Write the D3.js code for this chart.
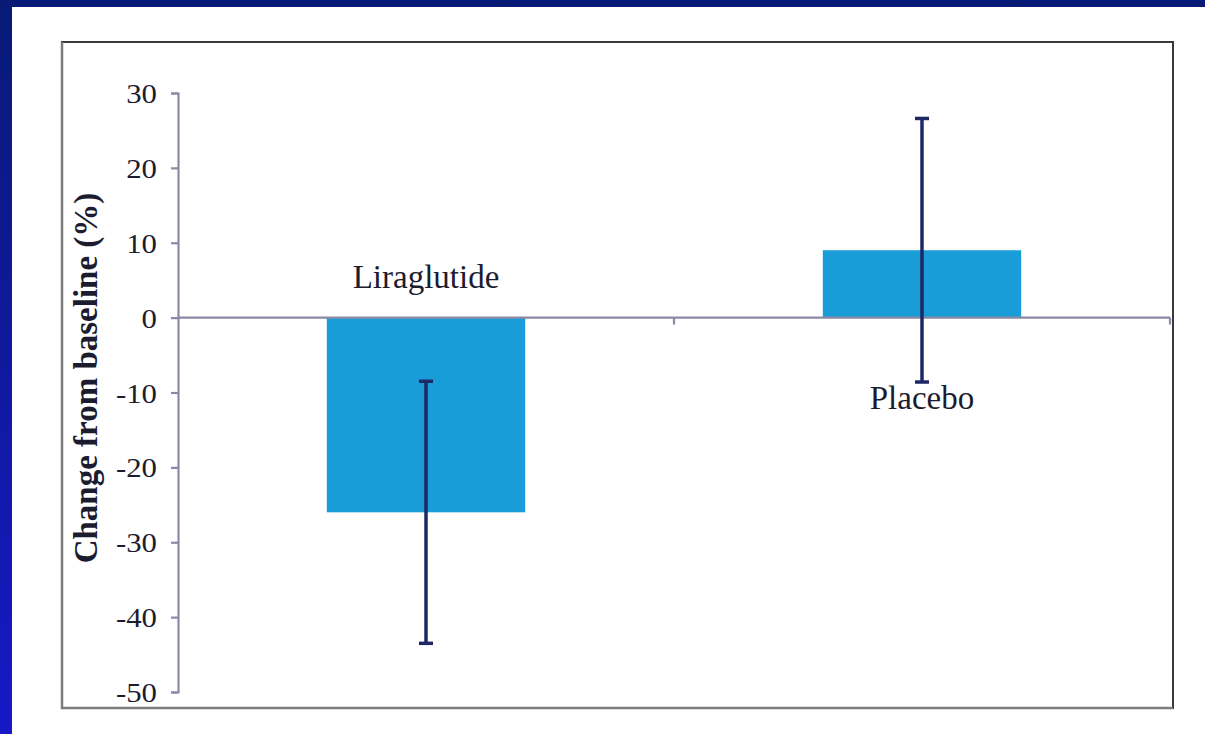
<!DOCTYPE html>
<html>
<head>
<meta charset="utf-8">
<script src="https://cdn.jsdelivr.net/npm/d3@7"></script>
<style>
  html, body { margin: 0; padding: 0; background: #ffffff; }
  svg { display: block; }
</style>
</head>
<body>
<svg id="chart" width="1205" height="734"></svg>
<script>
// Treatment groups and their mean change from baseline (%)
const categories = ["Liraglutide", "Placebo"];
const meanChange = [-26, 9];
// Half-width of each error bar (% points)
const errorHalf = [17.5, 17.6];
// Y axis tick values
const yTicks = [30, 20, 10, 0, -10, -20, -30, -40, -50];

const svg = d3.select("#chart");
const W = 1205, H = 734;

// Slide background: navy-to-blue gradient with a white content panel
const defs = svg.append("defs");
const grad = defs.append("linearGradient")
  .attr("id", "slideBg").attr("x1", 0).attr("y1", 0).attr("x2", 0).attr("y2", 1);
grad.append("stop").attr("offset", "0%").attr("stop-color", "#081a76");
grad.append("stop").attr("offset", "100%").attr("stop-color", "#1718c6");
svg.append("rect").attr("width", W).attr("height", H).attr("fill", "url(#slideBg)");
svg.append("rect").attr("x", 12).attr("y", 7).attr("width", W - 12).attr("height", H - 7)
  .attr("fill", "#ffffff");

// Chart frame
const frame = { x0: 62, y0: 42, x1: 1173, y1: 708 };
svg.append("rect")
  .attr("x", frame.x0).attr("y", frame.y0)
  .attr("width", frame.x1 - frame.x0).attr("height", frame.y1 - frame.y0)
  .attr("fill", "none").attr("stroke", "#3a3a3a").attr("stroke-width", 2);
svg.append("path")
  .attr("d", `M${frame.x0},${frame.y0} V${frame.y1} H${frame.x1}`)
  .attr("fill", "none").attr("stroke", "#7c7c7c").attr("stroke-width", 2.5);

// Scales
const plot = { left: 178, right: 1170, top: 93, bottom: 692 };
const y = d3.scaleLinear().domain([-50, 30]).range([plot.bottom, plot.top]);
const x = d3.scaleBand().domain(categories)
  .range([plot.left, plot.right]).paddingInner(0.6).paddingOuter(0.3);

const axisColor = "#8a8aa6";
const serif = "'Liberation Serif', 'Times New Roman', Times, serif";

// Y axis (hyphen-minus for negative labels)
const yAxis = svg.append("g")
  .attr("transform", `translate(${plot.left},0)`)
  .call(d3.axisLeft(y).tickValues(yTicks).tickFormat(d => String(d))
    .tickSize(7).tickSizeOuter(7).tickPadding(14));
yAxis.attr("font-family", null).attr("font-size", null);
yAxis.select(".domain").attr("stroke", axisColor).attr("stroke-width", 2.2);
yAxis.selectAll(".tick line").attr("stroke", axisColor).attr("stroke-width", 2.2);
yAxis.selectAll(".tick text")
  .attr("fill", "#1c1c30")
  .style("font-family", serif)
  .style("font-size", "28px")
  .attr("dy", "0.34em")
  .attr("transform", function () {
    const tx = +d3.select(this).attr("x");
    return `translate(${tx},0) scale(1.1,1) translate(${-tx},0)`;
  });

// Bars
const y0 = y(0);
svg.append("g").selectAll("rect")
  .data(categories)
  .join("rect")
  .attr("x", d => x(d))
  .attr("width", x.bandwidth())
  .attr("y", (d, i) => Math.min(y(meanChange[i]), y0))
  .attr("height", (d, i) => Math.abs(y(meanChange[i]) - y0))
  .attr("fill", "#199dd9");

// X axis along zero, ticks at band boundaries
const step = x.step();
const bounds = [plot.left + step, plot.right];
svg.append("line")
  .attr("x1", plot.left).attr("x2", plot.right)
  .attr("y1", y0).attr("y2", y0)
  .attr("stroke", axisColor).attr("stroke-width", 2.2);
svg.append("g").selectAll("line")
  .data(bounds)
  .join("line")
  .attr("x1", d => d).attr("x2", d => d)
  .attr("y1", y0).attr("y2", y0 + 7)
  .attr("stroke", axisColor).attr("stroke-width", 2.2);

// Error bars
const errColor = "#1f2866";
const capW = 14;
const eb = svg.append("g").selectAll("g")
  .data(categories)
  .join("g")
  .attr("transform", d => `translate(${x(d) + x.bandwidth() / 2},0)`);
eb.append("line")
  .attr("y1", (d, i) => y(meanChange[i] + errorHalf[i]))
  .attr("y2", (d, i) => y(meanChange[i] - errorHalf[i]))
  .attr("stroke", errColor).attr("stroke-width", 3.5);
eb.append("line")
  .attr("x1", -capW / 2).attr("x2", capW / 2)
  .attr("y1", (d, i) => y(meanChange[i] + errorHalf[i]))
  .attr("y2", (d, i) => y(meanChange[i] + errorHalf[i]))
  .attr("stroke", errColor).attr("stroke-width", 3.5);
eb.append("line")
  .attr("x1", -capW / 2).attr("x2", capW / 2)
  .attr("y1", (d, i) => y(meanChange[i] - errorHalf[i]))
  .attr("y2", (d, i) => y(meanChange[i] - errorHalf[i]))
  .attr("stroke", errColor).attr("stroke-width", 3.5);

// Group labels: above the zero line for decreases, below the error bar for increases
svg.append("g").selectAll("text")
  .data(categories)
  .join("text")
  .attr("x", d => x(d) + x.bandwidth() / 2)
  .attr("y", (d, i) => meanChange[i] < 0 ? y0 - 30 : y(meanChange[i] - errorHalf[i]) + 27)
  .attr("text-anchor", "middle")
  .attr("fill", "#1c1c30")
  .style("font-family", serif)
  .style("font-size", "33px")
  .text(d => d);

// Y axis title
svg.append("text")
  .attr("transform", "translate(97,378) rotate(-90)")
  .attr("text-anchor", "middle")
  .attr("fill", "#1c1c30")
  .style("font-family", serif)
  .style("font-weight", "bold")
  .style("font-size", "33px")
  .text("Change from baseline (%)");
</script>
</body>
</html>
